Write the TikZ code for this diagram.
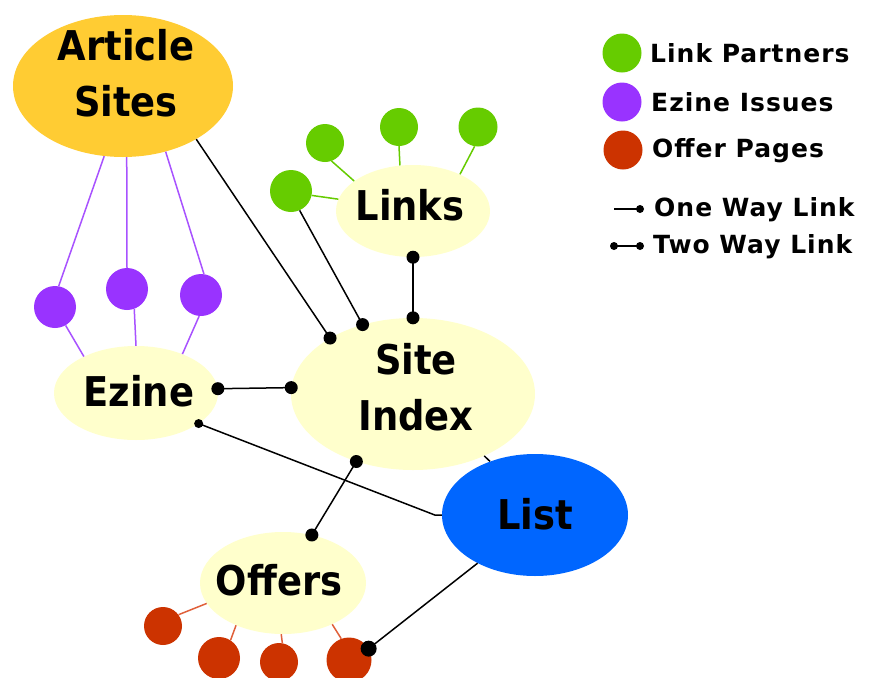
\documentclass[tikz,border=0pt]{standalone}
\usepackage{fontspec}
\setmainfont{DejaVu Sans}
\newfontfamily\nodefont{DejaVu Sans Condensed}
\newfontfamily\legfont[LetterSpace=4]{DejaVu Sans}
\usetikzlibrary{shapes.geometric}
\definecolor{paleY}{HTML}{FFFFCC}
\definecolor{artO}{HTML}{FFCC33}
\definecolor{grn}{HTML}{66CC00}
\definecolor{prp}{HTML}{9933FF}
\definecolor{redO}{HTML}{CC3300}
\definecolor{redL}{HTML}{E0603A}
\definecolor{blu}{HTML}{0066FF}
\newcommand\dotat[2][6.5pt]{\fill[black] (#2) circle (#1);}
\begin{document}
\begin{tikzpicture}[x=1pt,y=-1pt,
  ell/.style={ellipse,inner sep=0pt,draw=none},
  big/.style={font=\nodefont\bfseries\fontsize{41}{56}\selectfont,align=center,inner sep=0pt},
  leaf/.style={circle,inner sep=0pt,minimum size=40pt,draw=none},
  legtxt/.style={font=\legfont\bfseries\fontsize{25}{30}\selectfont,anchor=west,inner sep=0pt},
  blk/.style={black,line width=1.5pt},
  plk/.style={prp!85!white,line width=1.5pt},
  glk/.style={grn,line width=1.5pt},
  rlk/.style={redL,line width=1.5pt}]
\useasboundingbox (0,0) rectangle (871,678);
\fill[white] (0,0) rectangle (871,678);

% main ellipses
\node[ell,fill=artO,minimum width=220pt,minimum height=142pt,
  label={[big,xshift=3pt,yshift=12.5pt]center:{Article\\Sites}}] (art) at (123,86) {};
\node[ell,fill=paleY,minimum width=154pt,minimum height=92pt,
  label={[big,xshift=-3pt,yshift=6pt]center:Links}] (links) at (413,211) {};
\node[ell,fill=paleY,minimum width=244pt,minimum height=152pt,
  label={[big,xshift=3pt,yshift=6.5pt]center:{Site\\Index}}] (site) at (413,394) {};
\node[ell,fill=paleY,minimum width=164pt,minimum height=94pt,
  label={[big,xshift=3pt,yshift=2pt]center:Ezine}] (ezine) at (136,393) {};
\node[ell,fill=blu,minimum width=186pt,minimum height=122pt,
  label={[big,yshift=1pt]center:List}] (list) at (535,515) {};
\node[ell,fill=paleY,minimum width=166pt,minimum height=102pt,
  label={[big,xshift=-4pt,yshift=3pt]center:Offers}] (offers) at (283,583) {};

% leaf circles
\node[leaf,fill=grn,minimum size=42pt] (g1) at (291,191) {};
\node[leaf,fill=grn,minimum size=38pt] (g2) at (325,143) {};
\node[leaf,fill=grn,minimum size=38pt] (g3) at (399,127) {};
\node[leaf,fill=grn,minimum size=39pt] (g4) at (478,127) {};
\node[leaf,fill=prp,minimum size=42pt] (p1) at (55,307) {};
\node[leaf,fill=prp,minimum size=42pt] (p2) at (127,289) {};
\node[leaf,fill=prp,minimum size=42pt] (p3) at (201,295) {};
\node[leaf,fill=redO,minimum size=38pt] (r1) at (163,626) {};
\node[leaf,fill=redO,minimum size=42pt] (r2) at (219,658) {};
\node[leaf,fill=redO,minimum size=38pt] (r3) at (279,662) {};
\node[leaf,fill=redO,minimum size=45pt] (r4) at (349,660) {};

% purple links
\draw[plk] (art.-105) -- (p1.80);
\draw[plk] (art.-87) -- (p2.north);
\draw[plk] (art.-57) -- (p3.82);
\draw[plk] (p1.-60) -- (ezine.145);
\draw[plk] (p2.-70) -- (ezine.north);
\draw[plk] (p3.-95) -- (ezine.40);

% green links
\draw[glk] (g1.-12) -- (links.171);
\draw[glk] (g2.-70) -- (links.153);
\draw[glk] (g3.south) -- (links.106);
\draw[glk] (g4.-100) -- (links.38);

% red links
\draw[rlk] (r1.36) -- (offers.-165);
\draw[rlk] (r2.57) -- (offers.-138);
\draw[rlk] (r3.80) -- (offers.-92);
\draw[rlk] (r4.110) -- (offers.-40);

% black connectors
\draw[blk] (art.-36) -- (site.146);
\draw[blk] (g1.-66) -- (site.126);
\draw[blk,line width=2pt] (links.south) -- (site.north);
\draw[blk] (ezine.3) -- (site.177);
\draw[blk] (ezine.-26) -- ([xshift=-7pt]list.west) -- (list.west);
\draw[blk] (site.-130) -- (offers.59);
\draw[blk] (list.-140) -- (r4.30);
\draw[blk] (site.-41) -- (list.130);

\dotat{site.146}
\dotat{site.126}
\dotat{links.south}
\dotat{site.north}
\dotat{ezine.3}
\dotat{site.177}
\dotat[4.5pt]{ezine.-26}
\dotat{site.-130}
\dotat{offers.59}
\dotat[8pt]{r4.30}

% legend
\node[leaf,fill=grn,minimum size=39pt] (lg) at (622,53) {};
\node[leaf,fill=prp,minimum size=39pt] (lp) at (622,102) {};
\node[leaf,fill=redO,minimum size=39pt] (lr) at (623,150) {};
\node[legtxt] (tlg) at (650,53) {Link Partners};
\node[legtxt] (tlp) at (651,102) {Ezine Issues};
\node[legtxt] (tlr) at (652,151) {Offer Pages};
\coordinate (o1) at (614,209);
\coordinate (o2) at (640,209);
\coordinate (w1) at (614,246);
\coordinate (w2) at (640,246);
\draw[blk] (o1) -- (o2);
\draw[blk] (w1) -- (w2);
\dotat[4pt]{o2}
\dotat[4pt]{w1}
\dotat[4pt]{w2}
\node[legtxt] (tow) at (654,210) {One Way Link};
\node[legtxt] (ttw) at (653,247) {Two Way Link};
\end{tikzpicture}
\end{document}
